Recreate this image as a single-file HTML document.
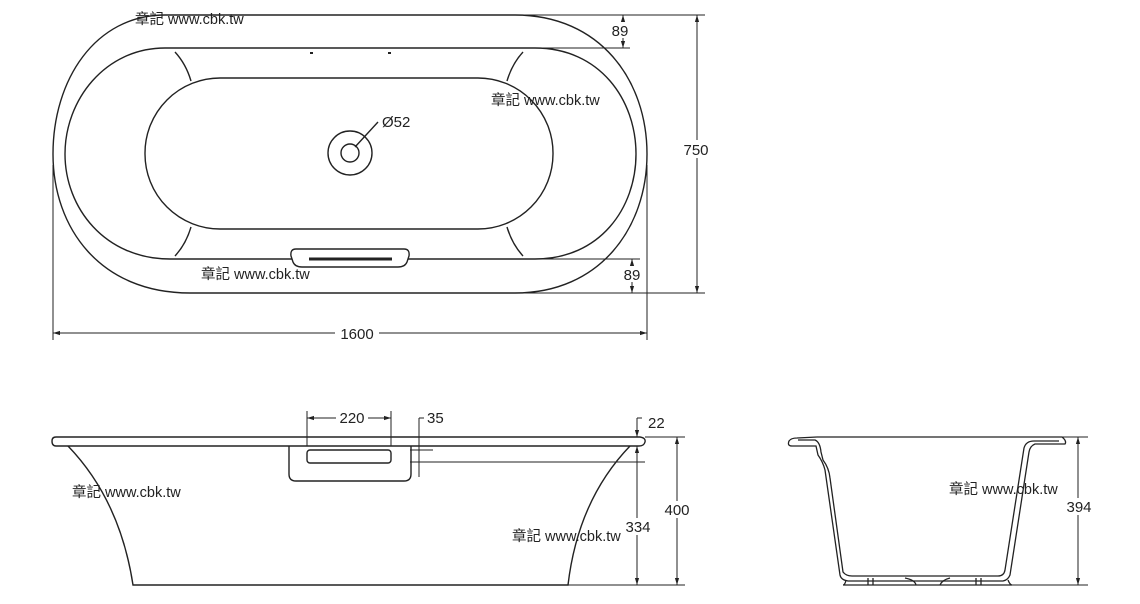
<!DOCTYPE html>
<html><head><meta charset="utf-8"><style>
html,body{margin:0;padding:0;background:#fff;}
svg{display:block;}
text{font-family:"Liberation Sans","Noto Sans CJK TC",sans-serif;fill:#222;}
</style></head><body>
<svg width="1140" height="604" viewBox="0 0 1140 604" xmlns="http://www.w3.org/2000/svg">
<defs>
<marker id="a" viewBox="0 0 10 10" refX="10" refY="5" markerWidth="7" markerHeight="7" orient="auto-start-reverse"><path d="M0,2 L10,5 L0,8 z" fill="#222"/></marker>
</defs>
<g fill="none" stroke="#222" stroke-width="1.4">
<path d="M165,15 L515,15 C600,15 647,80 647,154 C647,228 600,293 515,293 L190,293 C100,293 53,228 53,154 C53,80 95,15 165,15 Z"/>
<path d="M165,48 L535,48 C600,48 636,100 636,154 C636,208 600,259 535,259 L170,259 C105,259 65,208 65,154 C65,100 105,48 165,48 Z"/>
<rect x="145" y="78" width="408" height="151" rx="75" ry="75"/>
<ellipse cx="350" cy="153" rx="22" ry="22"/>
<circle cx="350" cy="153" r="9"/>
<path d="M175,52 Q186,64 191,81 M523,52 Q512,64 507,81 M191,227 Q186,244 175,256 M507,227 Q512,244 523,256"/>
<path d="M296,249 L404,249 Q410,249 409,256 L407,262 Q405,267 398,267 L302,267 Q295,267 293,262 L291,256 Q290,249 296,249 Z" fill="#fff"/>
<line x1="309" y1="259" x2="392" y2="259" stroke-width="3"/>
<line x1="355" y1="147" x2="378" y2="122"/>
</g>
<g stroke="#222" stroke-width="2"><line x1="310" y1="53" x2="313" y2="53"/><line x1="388" y1="53" x2="391" y2="53"/></g>
<g fill="none" stroke="#222" stroke-width="1">
<line x1="515" y1="15" x2="705" y2="15"/>
<line x1="535" y1="48" x2="630" y2="48"/>
<line x1="623" y1="15" x2="623" y2="48" marker-start="url(#a)" marker-end="url(#a)"/>
<line x1="697" y1="15" x2="697" y2="293" marker-start="url(#a)" marker-end="url(#a)"/>
<line x1="535" y1="259" x2="640" y2="259"/>
<line x1="515" y1="293" x2="705" y2="293"/>
<line x1="632" y1="259" x2="632" y2="293" marker-start="url(#a)" marker-end="url(#a)"/>
<line x1="53" y1="165" x2="53" y2="340"/>
<line x1="647" y1="165" x2="647" y2="340"/>
<line x1="53" y1="333" x2="647" y2="333" marker-start="url(#a)" marker-end="url(#a)"/>
</g>
<rect x="605" y="22" width="30" height="16" fill="#fff"/>
<rect x="682" y="140" width="30" height="18" fill="#fff"/>
<rect x="618" y="266" width="28" height="16" fill="#fff"/>
<rect x="335" y="325" width="44" height="17" fill="#fff"/>
<text x="620" y="36" font-size="15" text-anchor="middle">89</text>
<text x="696" y="155" font-size="15" text-anchor="middle">750</text>
<text x="632" y="280" font-size="15" text-anchor="middle">89</text>
<text x="357" y="339" font-size="15" text-anchor="middle">1600</text>
<text x="382" y="127" font-size="15">Ø52</text>

<g fill="none" stroke="#222" stroke-width="1.4">
<path d="M56,437 L640,437 Q646,438 645,442 Q644,446 639,446 L56,446 Q52,446 52,441 Q52,437 56,437 Z"/>
<path d="M68,446 Q120,500 133,585 L568,585 Q578,500 630,446"/>
<path d="M289,446 L289,474 Q289,481 296,481 L404,481 Q411,481 411,474 L411,446"/>
<rect x="307" y="450" width="84" height="13" rx="3"/>
</g>
<g fill="none" stroke="#222" stroke-width="1">
<line x1="307" y1="411" x2="307" y2="446"/><line x1="391" y1="411" x2="391" y2="446"/>
<line x1="307" y1="418" x2="391" y2="418" marker-start="url(#a)" marker-end="url(#a)"/>
<line x1="419" y1="418" x2="419" y2="477"/><line x1="419" y1="418" x2="424" y2="418"/>
<line x1="410" y1="450" x2="433" y2="450"/>
<line x1="410" y1="462" x2="645" y2="462"/>
<line x1="645" y1="437" x2="685" y2="437"/>
<line x1="568" y1="585" x2="685" y2="585"/>
<line x1="637" y1="418" x2="637" y2="437" marker-end="url(#a)"/><line x1="637" y1="418" x2="642" y2="418"/>
<line x1="637" y1="446" x2="637" y2="585" marker-start="url(#a)" marker-end="url(#a)"/>
<line x1="677" y1="437" x2="677" y2="585" marker-start="url(#a)" marker-end="url(#a)"/>
</g>
<rect x="336" y="409" width="32" height="17" fill="#fff"/>
<text x="352" y="423" font-size="15" text-anchor="middle">220</text>
<text x="427" y="423" font-size="15">35</text>
<text x="648" y="428" font-size="15">22</text>
<rect x="622" y="518" width="30" height="17" fill="#fff"/>
<rect x="662" y="501" width="30" height="17" fill="#fff"/>
<text x="638" y="532" font-size="15" text-anchor="middle">334</text>
<text x="677" y="515" font-size="15" text-anchor="middle">400</text>

<g fill="none" stroke="#222" stroke-width="1.3">
<path d="M817,437 L1062,437 Q1067,441 1065,444 L1035,444 Q1030,446 1029,452 L1010,575 Q1008,580 1003,581 L848,581 Q841,580 840,575 L825,470 Q823,462 818,455 L816,446 L792,446 Q787,446 789,441 Q791,438 797,438 L817,437"/>
<path d="M798,440 L815,440 Q820,442 821,452 L823,460 Q829,468 830,478 L843,572 Q846,576 852,576 L998,576 Q1004,576 1005,570 L1024,448 Q1026,441 1034,441 L1059,441"/>
<path d="M843,585 L1012,585 M846,580 Q845,585 843,585 M1008,580 Q1010,585 1012,585"/>
<path d="M868,578 L868,585 M873,578 L873,585 M976,578 L976,585 M981,578 L981,585 M905,578 Q915,580 916,585 M940,585 Q942,580 950,578"/>
</g>
<g fill="none" stroke="#222" stroke-width="1">
<line x1="1060" y1="437" x2="1088" y2="437"/>
<line x1="1012" y1="585" x2="1088" y2="585"/>
<line x1="1078" y1="437" x2="1078" y2="585" marker-start="url(#a)" marker-end="url(#a)"/>
</g>
<rect x="1063" y="498" width="32" height="17" fill="#fff"/>
<text x="1079" y="512" font-size="15" text-anchor="middle">394</text>

<g font-size="14.5">
<text x="135" y="24">章記 www.cbk.tw</text>
<text x="491" y="105">章記 www.cbk.tw</text>
<text x="201" y="279">章記 www.cbk.tw</text>
<text x="72" y="497">章記 www.cbk.tw</text>
<text x="512" y="541">章記 www.cbk.tw</text>
<text x="949" y="494">章記 www.cbk.tw</text>
</g>
</svg>
</body></html>
